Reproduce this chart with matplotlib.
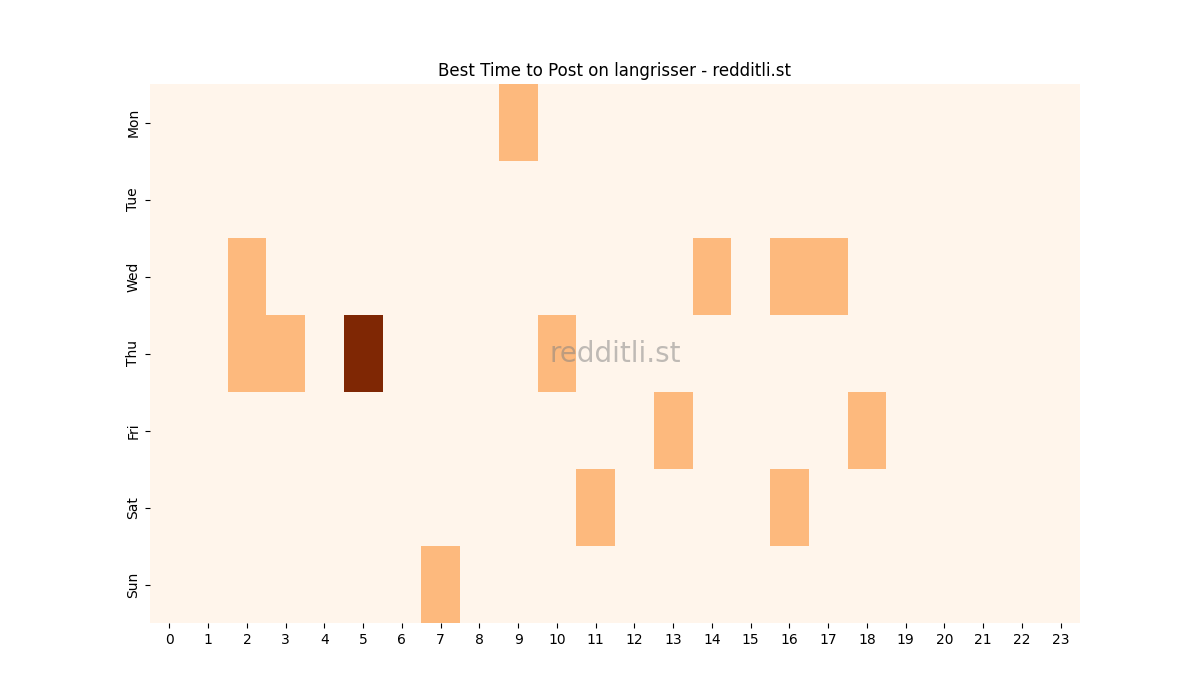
import matplotlib
matplotlib.use("Agg")
import matplotlib.pyplot as plt
import seaborn as sns
import numpy as np

days = ["Mon", "Tue", "Wed", "Thu", "Fri", "Sat", "Sun"]
hours = list(range(24))

# posts per (day, hour)
mon = [0]*24; mon[9] = 1
tue = [0]*24
wed = [0]*24; wed[2] = 1; wed[14] = 1; wed[16] = 1; wed[17] = 1
thu = [0]*24; thu[2] = 1; thu[3] = 1; thu[5] = 3; thu[10] = 1
fri = [0]*24; fri[13] = 1; fri[18] = 1
sat = [0]*24; sat[11] = 1; sat[16] = 1
sun = [0]*24; sun[7] = 1

grid = np.array([mon, tue, wed, thu, fri, sat, sun])

fig = plt.figure(figsize=(12, 7), dpi=100)
ax = sns.heatmap(grid, cmap="Oranges", cbar=False, xticklabels=hours, yticklabels=days)
ax.set_title("Best Time to Post on langrisser - redditli.st")
ax.tick_params(axis="x", rotation=0)
ax.tick_params(axis="y", rotation=90)
ax.text(0.5, 0.5, "redditli.st", transform=ax.transAxes, fontsize=20,
        color="gray", alpha=0.5, ha="center", va="center")

plt.savefig("out.png")
